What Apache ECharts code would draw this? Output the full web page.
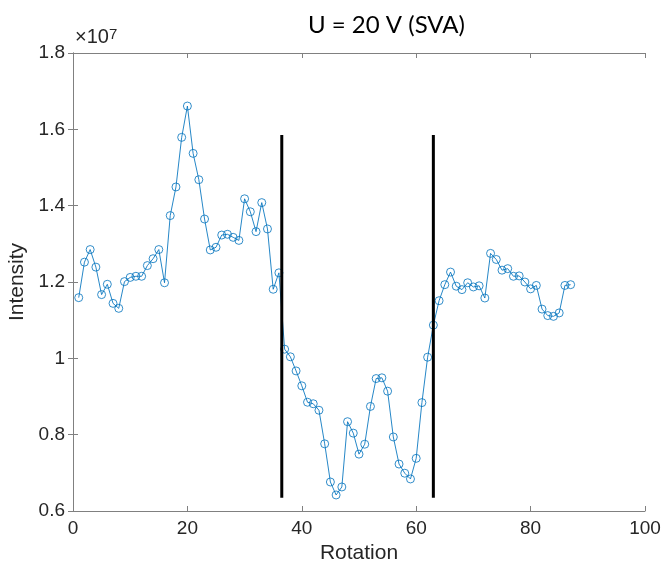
<!DOCTYPE html>
<html>
<head>
<meta charset="utf-8">
<script src="https://cdn.jsdelivr.net/npm/echarts@6/dist/echarts.min.js"></script>
<style>
html,body{margin:0;padding:0;background:#fff;}
#chart{width:662px;height:565px;}
</style>
</head>
<body>
<div id="chart"></div>
<script>
// Rotation steps (x) and intensity (in units of 1e7)
const rotation = [
  1,2,3,4,5,6,7,8,9,10,11,12,13,14,15,16,17,18,19,20,
  21,22,23,24,25,26,27,28,29,30,31,32,33,34,35,36,37,38,39,40,
  41,42,43,44,45,46,47,48,49,50,51,52,53,54,55,56,57,58,59,60,
  61,62,63,64,65,66,67,68,69,70,71,72,73,74,75,76,77,78,79,80,
  81,82,83,84,85,86,87
];
const intensityE7 = [
  1.159,1.252,1.285,1.239,1.167,1.194,1.144,1.131,1.201,1.212,
  1.215,1.215,1.243,1.261,1.285,1.198,1.374,1.449,1.579,1.661,
  1.537,1.468,1.365,1.284,1.291,1.323,1.325,1.317,1.309,1.418,
  1.384,1.332,1.408,1.339,1.181,1.224,1.024,1.004,0.967,0.928,
  0.885,0.881,0.864,0.776,0.676,0.642,0.663,0.834,0.804,0.749,
  0.775,0.874,0.947,0.949,0.914,0.794,0.723,0.699,0.684,0.738,
  0.884,1.003,1.087,1.151,1.193,1.226,1.189,1.180,1.198,1.187,
  1.190,1.158,1.275,1.259,1.231,1.235,1.215,1.216,1.200,1.182,
  1.191,1.129,1.112,1.110,1.119,1.191,1.193
];
// Vertical marker lines (x positions and y extent, units of 1e7)
const markerX = [36.5, 63];
const markerY = [0.635, 1.585];

const titleText = 'U = 20 V (SVA)';
const xName = 'Rotation';
const yName = 'Intensity';
const xMin = 0, xMax = 100, xStep = 20;
const yMin = 0.6, yMax = 1.8, yStep = 0.2;

const FONT = '"Liberation Sans", Arial, sans-serif';
const AXIS_GRAY = '#808080';
const TEXT = '#262626';
const BLUE = '#0072BD';

const seriesData = rotation.map((r, i) => [r, intensityE7[i]]);
const markerSeries = markerX.map(x => ({
  type: 'line',
  data: [[x, markerY[0]], [x, markerY[1]]],
  symbol: 'none',
  lineStyle: {color: '#000', width: 3},
  silent: true,
  z: 3
}));

const chart = echarts.init(document.getElementById('chart'), null, {renderer: 'canvas'});
const baseX = {
  type: 'value', min: xMin, max: xMax, interval: xStep,
  axisLine: {show: true, lineStyle: {color: AXIS_GRAY, width: 1}},
  axisTick: {show: true, inside: true, length: 5, lineStyle: {color: AXIS_GRAY}},
  splitLine: {show: false}
};
const baseY = {
  type: 'value', min: yMin, max: yMax, interval: yStep,
  axisLine: {show: true, lineStyle: {color: AXIS_GRAY, width: 1}},
  axisTick: {show: true, inside: true, length: 5, lineStyle: {color: AXIS_GRAY}},
  splitLine: {show: false}
};
chart.setOption({
  animation: false,
  backgroundColor: '#fff',
  title: {
    text: titleText,
    left: 303, top: 8,
    textStyle: {fontFamily: 'Lato, "Open Sans", sans-serif', fontWeight: 'normal', fontSize: 24, color: '#000'}
  },
  grid: {left: 73, right: 17, top: 53, bottom: 54, containLabel: false, outerBoundsMode: 'none'},
  xAxis: [
    Object.assign({}, baseX, {
      position: 'bottom',
      name: xName, nameLocation: 'middle', nameGap: 30,
      nameTextStyle: {fontFamily: FONT, fontSize: 21, color: TEXT},
      axisLabel: {fontFamily: FONT, fontSize: 19, color: TEXT, margin: 8}
    }),
    Object.assign({}, baseX, {position: 'top', axisLabel: {show: false}})
  ],
  yAxis: [
    Object.assign({}, baseY, {
      position: 'left',
      name: yName, nameLocation: 'middle', nameGap: 36,
      nameTextStyle: {fontFamily: FONT, fontSize: 21, color: TEXT},
      axisLabel: {fontFamily: FONT, fontSize: 19, color: TEXT, margin: 8}
    }),
    Object.assign({}, baseY, {position: 'right', axisLabel: {show: false}})
  ],
  graphic: [{
    type: 'text',
    left: 75, top: 27,
    style: {
      text: '{a|×10}{b|7}',
      rich: {
        a: {fontFamily: FONT, fontSize: 20, fill: TEXT, verticalAlign: 'bottom'},
        b: {fontFamily: FONT, fontSize: 15, fill: TEXT, verticalAlign: 'top'}
      }
    }
  }],
  series: [{
    type: 'line',
    data: seriesData,
    symbol: 'circle',
    symbolSize: 8,
    showAllSymbol: true,
    lineStyle: {color: BLUE, width: 1, opacity: 0.85},
    itemStyle: {color: 'rgba(255,255,255,0)', borderColor: BLUE, borderWidth: 1, opacity: 0.8},
    z: 2
  }].concat(markerSeries)
});
</script>
</body>
</html>
